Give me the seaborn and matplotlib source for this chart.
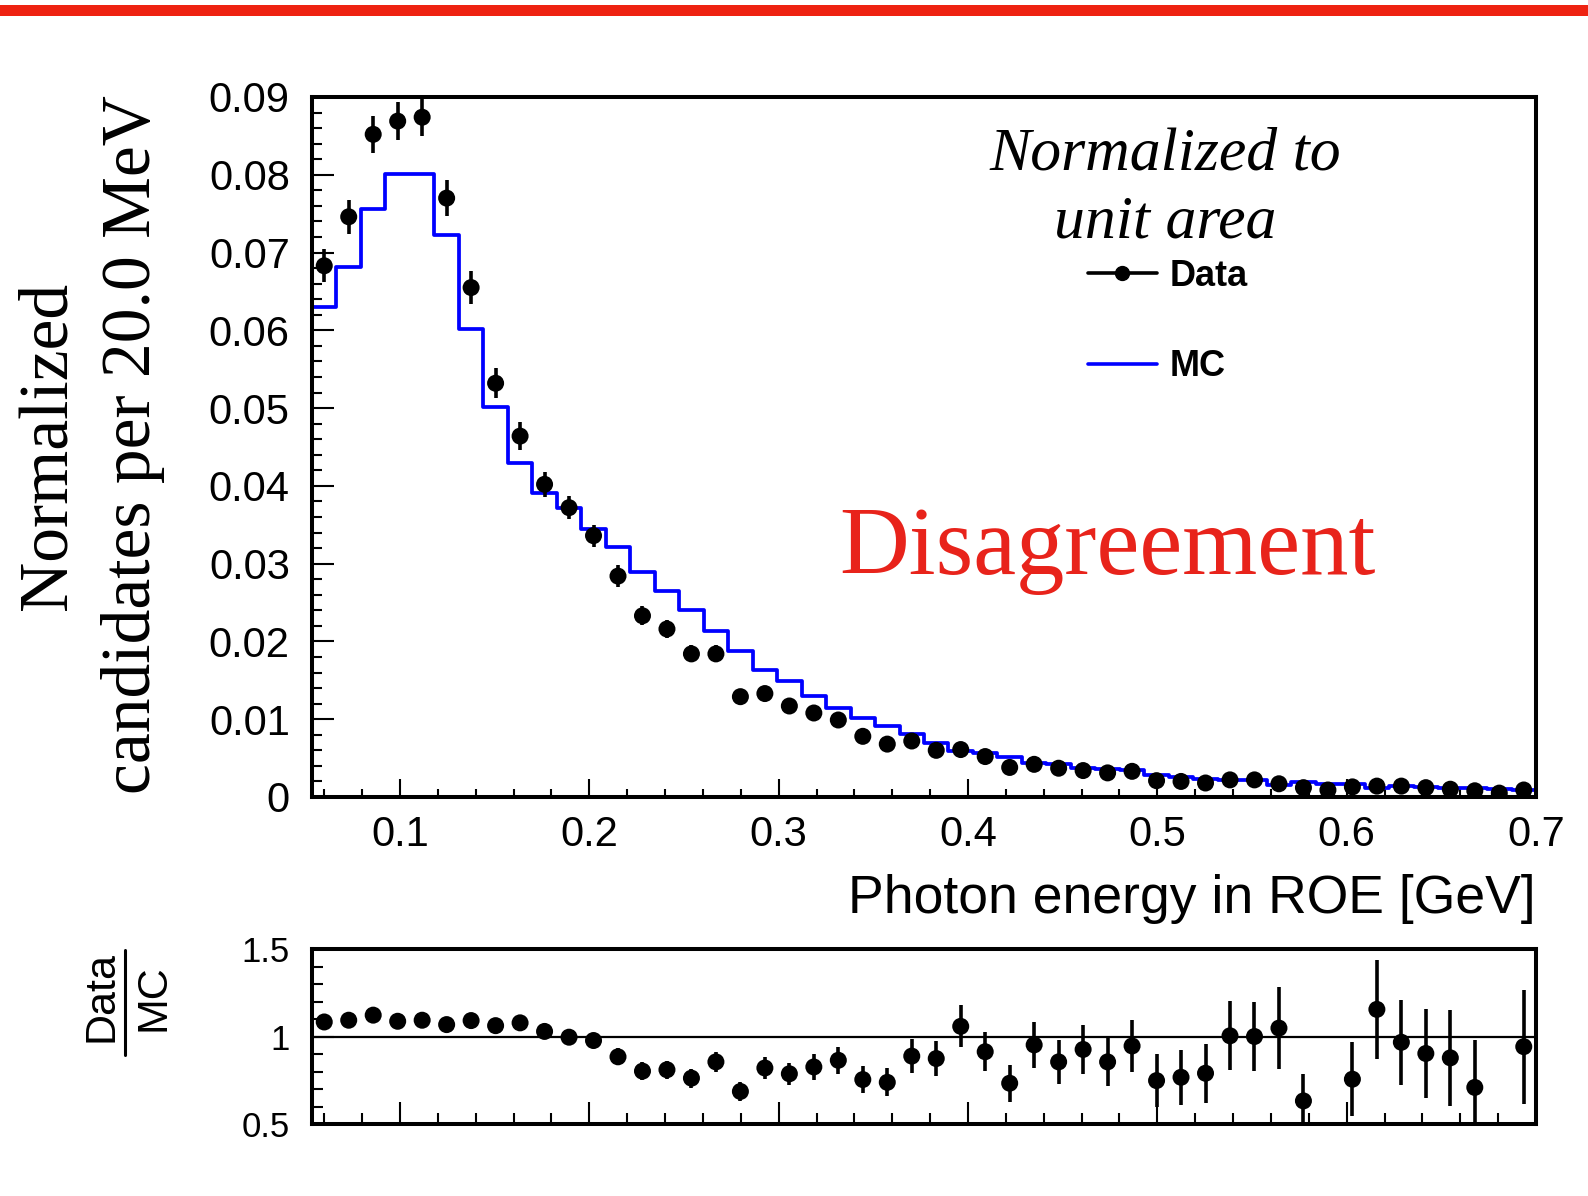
import numpy as np
import pandas as pd
import matplotlib
matplotlib.use("Agg")
import matplotlib.pyplot as plt
from matplotlib.lines import Line2D
from matplotlib.patches import Rectangle
import seaborn as sns

sns.set_theme(style="white")
plt.rcParams["font.family"] = ["Liberation Sans", "DejaVu Sans"]
plt.rcParams.update({"text.color": "black", "axes.labelcolor": "black",
                     "xtick.color": "black", "ytick.color": "black"})

# ---------------- data ----------------
x_min, x_max, n_bins = 0.0535, 0.7, 50

data_vals = [0.0683, 0.0746, 0.0852, 0.0869, 0.0874, 0.0770, 0.0655, 0.0532, 0.0464, 0.0402,
             0.0372, 0.0336, 0.0284, 0.0233, 0.0216, 0.0184, 0.0184, 0.0129, 0.0133, 0.0117,
             0.0108, 0.0099, 0.0078, 0.0068, 0.0072, 0.0060, 0.0061, 0.0052, 0.0038, 0.0042,
             0.0037, 0.0034, 0.0031, 0.0033, 0.0021, 0.0020, 0.0018, 0.0022, 0.0022, 0.0017,
             0.0012, 0.0009, 0.0013, 0.0014, 0.0014, 0.0012, 0.0010, 0.0008, 0.0005, 0.0009]
data_errs = [0.0021, 0.0022, 0.0024, 0.0024, 0.0024, 0.0023, 0.0021, 0.0019, 0.0018, 0.0016,
             0.0015, 0.0014, 0.0014, 0.0012, 0.0012, 0.0011, 0.0011, 0.0009, 0.0009, 0.0009,
             0.0008, 0.0008, 0.0007, 0.0007, 0.0007, 0.0006, 0.0006, 0.0006, 0.0005, 0.0005,
             0.0005, 0.0005, 0.0004, 0.0005, 0.0004, 0.0004, 0.0003, 0.0004, 0.0004, 0.0003,
             0.0003, 0.0002, 0.0003, 0.0003, 0.0003, 0.0003, 0.0002, 0.0002, 0.0002, 0.0002]
mc_vals = [0.0630, 0.0682, 0.0756, 0.0801, 0.0801, 0.0722, 0.0602, 0.0501, 0.0430, 0.0391,
           0.0372, 0.0344, 0.0321, 0.0289, 0.0265, 0.0240, 0.0214, 0.0188, 0.0163, 0.0149,
           0.0130, 0.0115, 0.0102, 0.0091, 0.0081, 0.0069, 0.0059, 0.0056, 0.0052, 0.0044,
           0.0043, 0.0037, 0.0036, 0.0035, 0.0028, 0.0026, 0.0023, 0.0022, 0.0022, 0.0016,
           0.0019, 0.0017, 0.0017, 0.0012, 0.0014, 0.0013, 0.0011, 0.0011, 0.0010, 0.0009]
ratio_vals = [1.083, 1.093, 1.122, 1.087, 1.093, 1.068, 1.091, 1.062, 1.078, 1.029,
              0.996, 0.977, 0.884, 0.802, 0.810, 0.762, 0.855, 0.686, 0.820, 0.787,
              0.826, 0.864, 0.754, 0.738, 0.888, 0.874, 1.058, 0.913, 0.733, 0.952,
              0.855, 0.926, 0.855, 0.946, 0.748, 0.767, 0.790, 1.004, 1.000, 1.048,
              0.632, np.nan, 0.756, 1.155, 0.967, 0.903, 0.878, 0.709, np.nan, 0.942]
ratio_errs = [0.033, 0.033, 0.032, 0.032, 0.032, 0.034, 0.037, 0.040, 0.043, 0.043,
              0.043, 0.044, 0.048, 0.050, 0.052, 0.054, 0.056, 0.055, 0.065, 0.064,
              0.072, 0.078, 0.077, 0.080, 0.095, 0.098, 0.120, 0.110, 0.107, 0.130,
              0.126, 0.140, 0.137, 0.150, 0.150, 0.158, 0.169, 0.198, 0.197, 0.234,
              0.155, np.nan, 0.210, 0.284, 0.243, 0.255, 0.275, 0.270, np.nan, 0.325]

y_ticks = [0.0, 0.01, 0.02, 0.03, 0.04, 0.05, 0.06, 0.07, 0.08, 0.09]
y_tick_labels = ["0", "0.01", "0.02", "0.03", "0.04", "0.05", "0.06", "0.07", "0.08", "0.09"]
x_ticks = [0.1, 0.2, 0.3, 0.4, 0.5, 0.6, 0.7]
x_tick_labels = ["0.1", "0.2", "0.3", "0.4", "0.5", "0.6", "0.7"]
r_ticks = [0.5, 1.0, 1.5]
r_tick_labels = ["0.5", "1", "1.5"]

edges = np.linspace(x_min, x_max, n_bins + 1)
centers = 0.5 * (edges[:-1] + edges[1:])
df = pd.DataFrame({"x": centers, "data": data_vals, "derr": data_errs,
                   "mc": mc_vals, "ratio": ratio_vals, "rerr": ratio_errs})
# step outline of the MC histogram (starts from zero at the left edge)
mc_step = pd.DataFrame({"x": np.concatenate([[edges[0]], edges]),
                        "y": np.concatenate([[0.0], mc_vals, [mc_vals[-1]]])})

# ---------------- figure ----------------
W, H = 1588, 1196
fig = plt.figure(figsize=(W / 100, H / 100), dpi=100)
fig.patch.set_facecolor("white")

# red banner line at top
fig.add_artist(Rectangle((0, 1 - 16 / H), 1, 11 / H, transform=fig.transFigure,
                         color="#EE2211", lw=0))

ax = fig.add_axes([312 / W, 1 - 797 / H, 1224 / W, 700 / H])
axr = fig.add_axes([312 / W, 1 - 1124 / H, 1224 / W, 175 / H])

# MC histogram
sns.lineplot(data=mc_step, x="x", y="y", drawstyle="steps-post", estimator=None,
             sort=False, color="#0000FF", linewidth=2.7, ax=ax)
# Data points
ax.errorbar(df["x"], df["data"], yerr=df["derr"], fmt="none", ecolor="black",
            elinewidth=2.6, capsize=0, zorder=4)
sns.scatterplot(data=df, x="x", y="data", color="black", s=150, edgecolor="none",
                ax=ax, zorder=5, legend=False)

# Ratio
axr.axhline(1.0, color="black", lw=1.6, zorder=2)
axr.errorbar(df["x"], df["ratio"], yerr=df["rerr"], fmt="none", ecolor="black",
             elinewidth=2.6, capsize=0, zorder=4)
sns.scatterplot(data=df, x="x", y="ratio", color="black", s=150, edgecolor="none",
                ax=axr, zorder=5, legend=False)

for a in (ax, axr):
    a.set_xlim(x_min, x_max)
    for s in a.spines.values():
        s.set_linewidth(2.9)
        s.set_color("black")
        s.set_visible(True)
        s.set_zorder(6)
    a.set_facecolor("white")
    a.grid(False)

ax.set_ylim(0, 0.09)
ax.set_yticks(y_ticks)
ax.set_yticklabels(y_tick_labels)
ax.set_xticks(x_ticks)
ax.set_xticklabels(x_tick_labels)
ax.set_yticks(np.arange(0.002, 0.09, 0.002), minor=True)
ax.set_xticks(np.arange(0.06, 0.70, 0.02), minor=True)
ax.tick_params(axis="y", which="major", direction="in", length=16, width=1.5,
               labelsize=30, pad=16, left=True, right=False)
ax.tick_params(axis="y", which="minor", direction="in", length=7.5, width=1.5,
               left=True, right=False)
ax.tick_params(axis="x", which="major", direction="in", length=13, width=1.5,
               labelsize=30, pad=13, bottom=True, top=False)
ax.tick_params(axis="x", which="minor", direction="in", length=6, width=1.5,
               bottom=True, top=False)
ax.set_ylabel("")
ax.set_xlabel("Photon energy in ROE [GeV]", fontsize=38.5, loc="right", labelpad=14)

axr.set_ylim(0.5, 1.5)
axr.set_yticks(r_ticks)
axr.set_yticklabels(r_tick_labels)
axr.set_yticks(np.arange(0.6, 1.5, 0.1), minor=True)
axr.set_xticks(x_ticks)
axr.set_xticklabels([])
axr.set_xticks(np.arange(0.06, 0.70, 0.02), minor=True)
axr.tick_params(axis="y", which="major", direction="in", length=16, width=1.5,
                labelsize=25, pad=16, left=True, right=False)
axr.tick_params(axis="y", which="minor", direction="in", length=8, width=1.5,
                left=True, right=False)
axr.tick_params(axis="x", which="major", direction="in", length=16, width=1.5,
                bottom=True, top=False)
axr.tick_params(axis="x", which="minor", direction="in", length=8, width=1.5,
                bottom=True, top=False)
axr.set_xlabel("")
axr.set_ylabel("")

# Y label (serif, two lines)
serif = ["Liberation Serif", "DejaVu Serif"]
fig.text(49 / W, 1 - 446 / H, "Normalized", rotation=90, fontsize=50,
         family=serif, ha="center", va="center")
fig.text(133 / W, 1 - 445 / H, "candidates per 20.0 MeV", rotation=90, fontsize=50,
         family=serif, ha="center", va="center")

# Ratio y label as a fraction
fig.text(102 / W, 1 - 996 / H, "Data", rotation=90, fontsize=31, ha="center", va="center")
fig.text(153 / W, 1 - 998 / H, "MC", rotation=90, fontsize=31, ha="center", va="center")
fig.add_artist(Line2D([125 / W, 125 / W], [1 - 950 / H, 1 - 1055 / H],
                      transform=fig.transFigure, color="black", lw=2.2))

# Annotation texts
fig.text(1165 / W, 1 - 155 / H, "Normalized to", fontsize=44.5, style="italic",
         family=serif, ha="center", va="center")
fig.text(1165 / W, 1 - 223 / H, "unit area", fontsize=44.5, style="italic",
         family=serif, ha="center", va="center")
fig.text(1107 / W, 1 - 551 / H, "Disagreement", fontsize=69.5, color="#E8231B",
         family=serif, ha="center", va="center")

# Legend
handles = [Line2D([], [], color="black", lw=2.6, marker="o", markersize=10),
           Line2D([], [], color="#0000FF", lw=2.6)]
leg = ax.legend(handles, ["Data", "MC"], loc="upper left",
                bbox_to_anchor=(1088 / W, 1 - 259 / H), bbox_transform=fig.transFigure,
                frameon=False, prop={"weight": "bold", "size": 26},
                handlelength=1.9, handletextpad=0.36, labelspacing=1.53,
                borderaxespad=0, borderpad=0)

fig.savefig("out.png", dpi=100, facecolor="white")
